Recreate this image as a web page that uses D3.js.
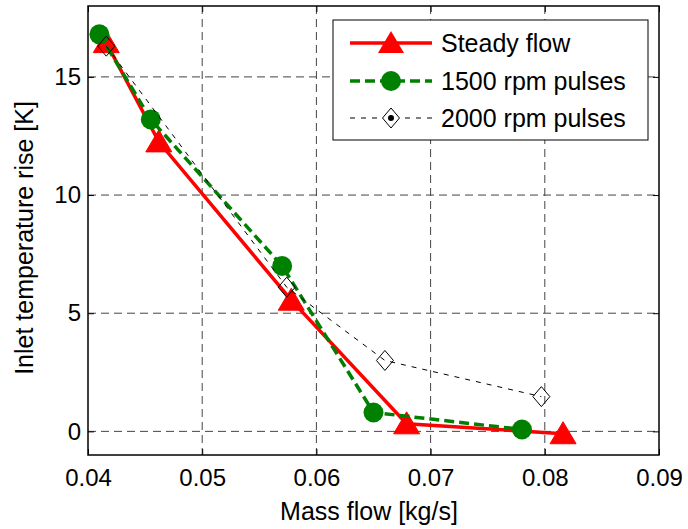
<!DOCTYPE html>
<html>
<head>
<meta charset="utf-8">
<script src="https://cdn.jsdelivr.net/npm/d3@7"></script>
<style>
  html, body { margin: 0; padding: 0; background: #fff; }
  text { font-family: "Liberation Sans", Arial, sans-serif; fill: #000; }
</style>
</head>
<body>
<svg id="chart" width="688" height="529"></svg>
<script>
// ---- data ----
const xTicks = [0.04, 0.05, 0.06, 0.07, 0.08, 0.09];
const yTicks = [0, 5, 10, 15];
const seriesNames = ["Steady flow", "1500 rpm pulses", "2000 rpm pulses"];
const steadyX = [0.0416, 0.0462, 0.0578, 0.0679, 0.0816];
const steadyY = [16.45, 12.25, 5.55, 0.32, -0.10];
const p1500X = [0.0410, 0.0455, 0.0570, 0.0650, 0.0780];
const p1500Y = [16.80, 13.20, 7.00, 0.80, 0.08];
const p2000X = [0.0416, 0.0574, 0.0660, 0.0797];
const p2000Y = [16.30, 6.10, 3.00, 1.47];

const W = 688, H = 529;
const L = 88, R = 659, T = 6, B = 455;
const svg = d3.select("#chart");

const x = d3.scaleLinear().domain([0.04, 0.09]).range([L, R]);
const y = d3.scaleLinear().domain([-1, 18]).range([B, T]);

// grid
const grid = svg.append("g");
grid.selectAll("line.gx").data(xTicks.slice(1, -1)).enter().append("line")
  .attr("x1", d => x(d)).attr("x2", d => x(d)).attr("y1", T).attr("y2", B)
  .attr("stroke", "#444").attr("stroke-width", 1).attr("stroke-dasharray", "8,5");
grid.selectAll("line.gy").data(yTicks).enter().append("line")
  .attr("x1", L).attr("x2", R).attr("y1", d => y(d)).attr("y2", d => y(d))
  .attr("stroke", "#444").attr("stroke-width", 1).attr("stroke-dasharray", "8,5");

// axes (ticks inward, on all four sides)
const fmtX = d3.format(".2f");
const xAxisB = d3.axisBottom(x).tickValues(xTicks).tickSize(-6).tickPadding(14).tickFormat(d => fmtX(d));
const xAxisT = d3.axisTop(x).tickValues(xTicks).tickSize(-6).tickFormat("");
const yAxisL = d3.axisLeft(y).tickValues(yTicks).tickSize(-6).tickPadding(7).tickFormat(d3.format("d"));
const yAxisR = d3.axisRight(y).tickValues(yTicks).tickSize(-6).tickFormat("");

function styleAxis(g) {
  g.select(".domain").remove();
  g.selectAll(".tick line").attr("stroke", "#000").attr("stroke-width", 1);
  g.selectAll(".tick text").attr("font-size", 24).attr("font-family", "Liberation Sans, Arial, sans-serif").attr("fill", "#000");
}
svg.append("g").attr("transform", `translate(0,${B})`).call(xAxisB).call(styleAxis);
svg.append("g").attr("transform", `translate(0,${T})`).call(xAxisT).call(styleAxis);
svg.append("g").attr("transform", `translate(${L},0)`).call(yAxisL).call(styleAxis);
svg.append("g").attr("transform", `translate(${R},0)`).call(yAxisR).call(styleAxis);

svg.append("rect").attr("x", L).attr("y", T).attr("width", R - L).attr("height", B - T)
  .attr("fill", "none").attr("stroke", "#000").attr("stroke-width", 1.5);

// axis labels
svg.append("text").attr("x", 369).attr("y", 520).attr("text-anchor", "middle")
  .attr("font-size", 25).text("Mass flow [kg/s]");
svg.append("text").attr("transform", "translate(33,238) rotate(-90)").attr("text-anchor", "middle")
  .attr("font-size", 25).text("Inlet temperature rise [K]");

// markers
const triPath = "M0,-12 L13,10 L-13,10 Z";
const diaPath = "M0,-10 L8.5,0 L0,10 L-8.5,0 Z";
const line = d3.line().x(d => x(d[0])).y(d => y(d[1]));

const steady = d3.zip(steadyX, steadyY);
const p1500 = d3.zip(p1500X, p1500Y);
const p2000 = d3.zip(p2000X, p2000Y);

const plot = svg.append("g");
// Steady flow
plot.append("path").datum(steady).attr("d", line).attr("fill", "none")
  .attr("stroke", "#ff0000").attr("stroke-width", 3.5);
plot.selectAll("path.tri").data(steady).enter().append("path").attr("class", "tri")
  .attr("d", triPath).attr("transform", d => `translate(${x(d[0])},${y(d[1])})`)
  .attr("fill", "#ff0000").attr("stroke", "#ff0000");
// 1500 rpm
plot.append("path").datum(p1500).attr("d", line).attr("fill", "none")
  .attr("stroke", "#008000").attr("stroke-width", 3.5).attr("stroke-dasharray", "10,5");
plot.selectAll("circle.c15").data(p1500).enter().append("circle").attr("class", "c15")
  .attr("cx", d => x(d[0])).attr("cy", d => y(d[1])).attr("r", 10).attr("fill", "#008000");
// 2000 rpm
plot.append("path").datum(p2000).attr("d", line).attr("fill", "none")
  .attr("stroke", "#000").attr("stroke-width", 1).attr("stroke-dasharray", "5,6");
plot.selectAll("path.dia").data(p2000).enter().append("path").attr("class", "dia")
  .attr("d", diaPath).attr("transform", d => `translate(${x(d[0])},${y(d[1])})`)
  .attr("fill", "none").attr("stroke", "#000").attr("stroke-width", 1);

// legend
const lg = svg.append("g");
lg.append("rect").attr("x", 333).attr("y", 20).attr("width", 315).attr("height", 120)
  .attr("fill", "#fff").attr("stroke", "#000").attr("stroke-width", 1);
const rows = [43, 81, 118];
const lx1 = 350, lx2 = 432, lm = 391;
// row 1
lg.append("line").attr("x1", lx1).attr("x2", lx2).attr("y1", rows[0]).attr("y2", rows[0])
  .attr("stroke", "#ff0000").attr("stroke-width", 3.5);
lg.append("path").attr("d", triPath).attr("transform", `translate(${lm},${rows[0]})`).attr("fill", "#ff0000");
// row 2
lg.append("line").attr("x1", lx1).attr("x2", lx2).attr("y1", rows[1]).attr("y2", rows[1])
  .attr("stroke", "#008000").attr("stroke-width", 3.5).attr("stroke-dasharray", "10,5");
lg.append("circle").attr("cx", lm).attr("cy", rows[1]).attr("r", 10).attr("fill", "#008000");
// row 3
lg.append("line").attr("x1", lx1).attr("x2", lx2).attr("y1", rows[2]).attr("y2", rows[2])
  .attr("stroke", "#000").attr("stroke-width", 1).attr("stroke-dasharray", "5,6");
lg.append("path").attr("d", diaPath).attr("transform", `translate(${lm},${rows[2]})`)
  .attr("fill", "#fff").attr("stroke", "#000").attr("stroke-width", 1);
lg.append("circle").attr("cx", lm).attr("cy", rows[2]).attr("r", 3).attr("fill", "#000");
lg.selectAll("text.lt").data(seriesNames).enter().append("text").attr("class", "lt")
  .attr("x", 441).attr("y", (d, i) => rows[i] + 9).attr("font-size", 25).text(d => d);
</script>
</body>
</html>
